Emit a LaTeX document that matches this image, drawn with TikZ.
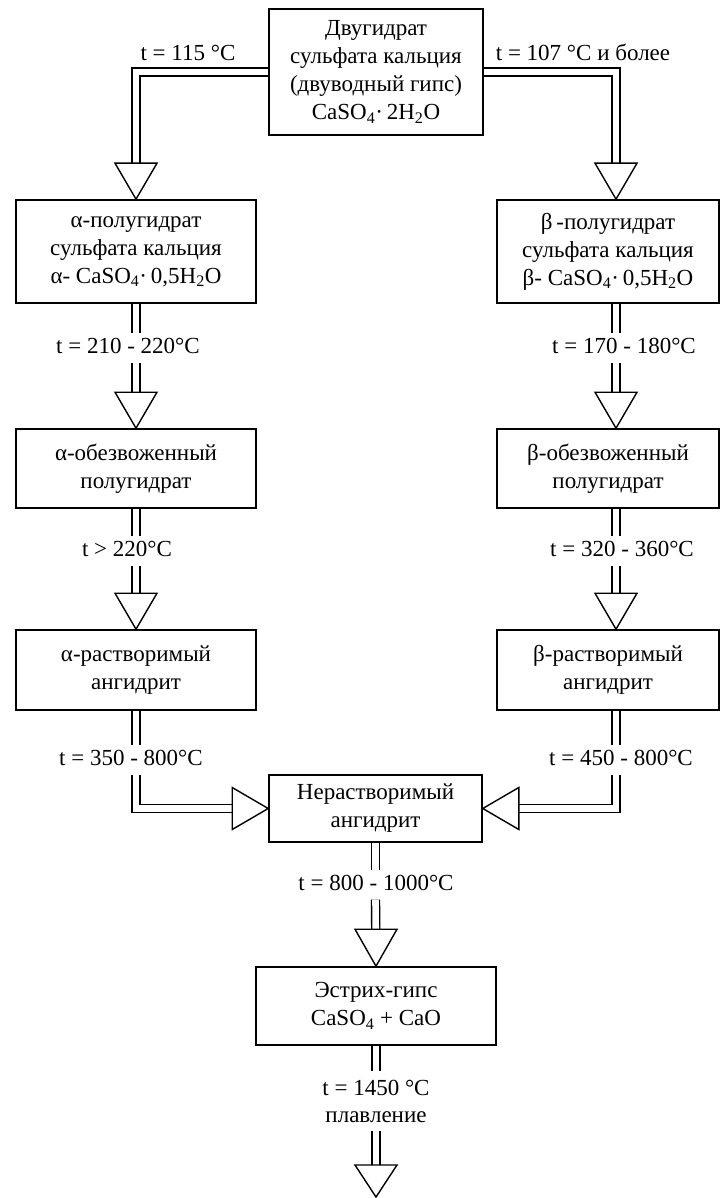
\documentclass[tikz,border=0pt]{standalone}
\usepackage{fontspec}
\setmainfont{Liberation Serif}
\usetikzlibrary{backgrounds}
\newcommand\downtri[2]{\draw[tri] #1 -- ++(-21,-#2) -- ++(42,0) -- cycle;}
\begin{document}
\begin{tikzpicture}[x=1pt,y=-1pt,
  box/.style={draw, line width=1.6pt, rectangle, align=center, inner sep=0pt, font=\fontsize{23}{28}\selectfont},
  lbl/.style={inner sep=0pt, text height=15pt, text depth=5pt, minimum height=29pt, font=\fontsize{23}{28}\selectfont},
  dbl/.style={draw, line width=1.4pt, double, double distance=6.6pt, line join=miter},
  tri/.style={draw, line width=1.4pt, fill=white, line join=miter}
]
\useasboundingbox (0,0) rectangle (721,1198);
% boxes
\node[box, minimum width=214pt, minimum height=126pt] (top) at (376,72)
  {Двугидрат\\сульфата кальция\\(двуводный гипс)\\CaSO\textsubscript{4}·\,2H\textsubscript{2}O};
\node[box, minimum width=240pt, minimum height=103pt] (a1) at (136,251.5)
  {α-полугидрат\\сульфата кальция\\α- CaSO\textsubscript{4}·\,0,5H\textsubscript{2}O};
\node[box, minimum width=222pt, minimum height=103pt] (b1) at (608,251.5)
  {β\,-полугидрат\\сульфата кальция\\β- CaSO\textsubscript{4}·\,0,5H\textsubscript{2}O};
\node[box, minimum width=240pt, minimum height=79pt] (a2) at (136,468.5)
  {α-обезвоженный\\полугидрат};
\node[box, minimum width=222pt, minimum height=79pt] (b2) at (608,468.5)
  {β-обезвоженный\\полугидрат};
\node[box, minimum width=240pt, minimum height=80pt] (a3) at (136,670)
  {α-растворимый\\ангидрит};
\node[box, minimum width=222pt, minimum height=80pt] (b3) at (608,670)
  {β-растворимый\\ангидрит};
\node[box, minimum width=213pt, minimum height=67pt] (ins) at (375.5,808.5)
  {Нерастворимый\\ангидрит};
\node[box, minimum width=240pt, minimum height=78pt] (est) at (376,1006)
  {Эстрих-гипс\\CaSO\textsubscript{4} + CaO};
% labels
\node[lbl] (lt) at (188,56) {t = 115 °C};
\node[lbl] (rt) at (583,56) {t = 107 °C и более};
\node[lbl] (la1) at (128,348) {t = 210 - 220°C};
\node[lbl] (lb1) at (624,348) {t = 170 - 180°C};
\node[lbl] (la2) at (127,551) {t > 220°C};
\node[lbl] (lb2) at (622,551) {t = 320 - 360°C};
\node[lbl] (la3) at (131,760) {t = 350 - 800°C};
\node[lbl] (lb3) at (621,760) {t = 450 - 800°C};
\node[lbl] (lins) at (376,885) {t = 800 - 1000°C};
\node[inner sep=0pt, minimum height=60pt, align=center, font=\fontsize{23}{27}\selectfont] (lest) at (376,1101) {t = 1450 °C\\плавление};
\coordinate (bx) at (616,0);
\coordinate (fin) at (376,1197);
% connectors
\begin{scope}[on background layer]
\fill[white] (0,0) rectangle (721,1198);
\draw[dbl, shorten >=36pt] (top.west) -| (a1.north);
\draw[dbl, shorten >=36pt] (top.east) -| (b1.north -| bx);
\draw[dbl] (a1.south) -- (a1.south |- la1.north);
\draw[dbl, shorten >=36pt] (a1.south |- la1.south) -- (a2.north);
\draw[dbl] (b1.south -| bx) -- (lb1.north -| bx);
\draw[dbl, shorten >=36pt] (lb1.south -| bx) -- (b2.north -| bx);
\draw[dbl] (a2.south) -- (a2.south |- la2.north);
\draw[dbl, shorten >=36pt] (a2.south |- la2.south) -- (a3.north);
\draw[dbl] (b2.south -| bx) -- (lb2.north -| bx);
\draw[dbl, shorten >=36pt] (lb2.south -| bx) -- (b3.north -| bx);
\draw[dbl] (a3.south) -- (a3.south |- la3.north);
\draw[dbl, shorten >=36pt] (a3.south |- la3.south) |- (ins.west);
\draw[dbl] (b3.south -| bx) -- (lb3.north -| bx);
\draw[dbl, shorten >=36pt] (lb3.south -| bx) |- (ins.east);
\draw[dbl] (ins.south) -- (ins.south |- lins.north);
\draw[dbl, shorten >=37pt] (ins.south |- lins.south) -- (est.north);
\draw[dbl] (est.south) -- (lest.north);
\draw[dbl, shorten >=32pt] (lest.south) -- (fin);
\downtri{(a1.north)}{36}
\downtri{(b1.north -| bx)}{36}
\downtri{(a2.north)}{36}
\downtri{(b2.north -| bx)}{36}
\downtri{(a3.north)}{36}
\downtri{(b3.north -| bx)}{36}
\downtri{(est.north)}{37}
\downtri{(fin)}{32}
\draw[tri] (ins.west) -- ++(-36,-21) -- ++(0,42) -- cycle;
\draw[tri] (ins.east) -- ++(36,-21) -- ++(0,42) -- cycle;
\end{scope}
\end{tikzpicture}
\end{document}
